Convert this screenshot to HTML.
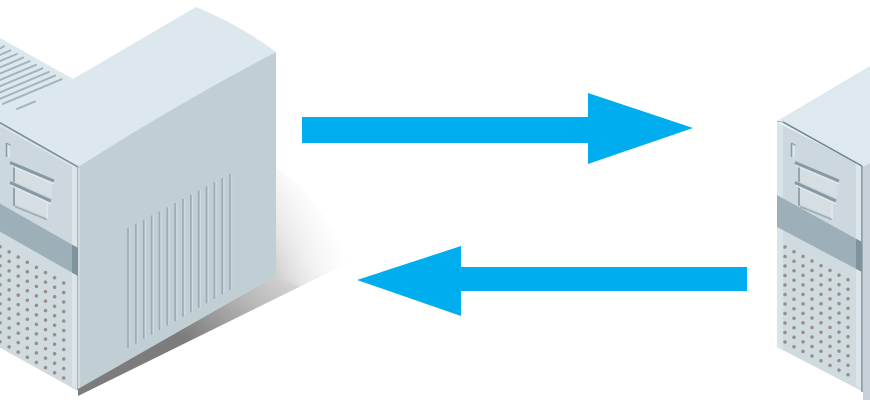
<!DOCTYPE html>
<html>
<head>
<meta charset="utf-8">
<style>
  html, body { margin: 0; padding: 0; background: #ffffff; }
  body { width: 870px; height: 400px; overflow: hidden; }
  svg { display: block; }
</style>
</head>
<body>
<svg width="870" height="400" viewBox="0 0 870 400" xmlns="http://www.w3.org/2000/svg">
  <defs>
    <linearGradient id="shad" gradientUnits="userSpaceOnUse" x1="190" y1="345" x2="330" y2="200">
      <stop offset="0" stop-color="#7c7c7c"/>
      <stop offset="0.35" stop-color="#b6b6b6"/>
      <stop offset="0.7" stop-color="#e4e4e4"/>
      <stop offset="1" stop-color="#ffffff"/>
    </linearGradient>
    <linearGradient id="shad2" gradientUnits="userSpaceOnUse" x1="276" y1="0" x2="350" y2="0">
      <stop offset="0" stop-color="#ffffff" stop-opacity="0"/>
      <stop offset="1" stop-color="#ffffff" stop-opacity="1"/>
    </linearGradient>
    <g id="eicon">
      <polygon points="6,143 10,145 10,158 6,156" fill="#dde7eb"/>
      <line x1="6.5" y1="143" x2="6.5" y2="157" stroke="#8a9ca5" stroke-width="1.6"/>
      <line x1="6.5" y1="143" x2="10.5" y2="145.5" stroke="#8a9ca5" stroke-width="1.2"/>
      <polygon points="13,166 52,184 52,198 13,181" fill="#d4dee3"/>
      <line x1="14" y1="166" x2="14" y2="182" stroke="#93a4ac" stroke-width="2"/>
      <line x1="10" y1="162.5" x2="54" y2="181" stroke="#8799a2" stroke-width="3"/>
      <line x1="11" y1="165.5" x2="54" y2="184" stroke="#e4ecef" stroke-width="1.2"/>
      <polygon points="13,187 48,203 48,218 13,203" fill="#d4dee3"/>
      <line x1="14" y1="187" x2="14" y2="206" stroke="#93a4ac" stroke-width="2"/>
      <line x1="10" y1="182.5" x2="51" y2="201" stroke="#8799a2" stroke-width="3"/>
      <line x1="11" y1="185.5" x2="51" y2="204" stroke="#e4ecef" stroke-width="1.2"/>
      <line x1="15" y1="206.5" x2="47" y2="219.5" stroke="#9aabb3" stroke-width="1.6"/>
      <line x1="47" y1="204" x2="47" y2="219" stroke="#e4ecef" stroke-width="1.2"/>
    </g>
    <g id="dcol">
      <circle cx="0" cy="0" r="1.75"/><circle cx="0" cy="9.5" r="1.75"/><circle cx="0" cy="19" r="1.75"/><circle cx="0" cy="28.5" r="1.75"/><circle cx="0" cy="38" r="1.75"/><circle cx="0" cy="47.5" r="1.75"/><circle cx="0" cy="57" r="1.75"/><circle cx="0" cy="66.5" r="1.75"/><circle cx="0" cy="76" r="1.75"/><circle cx="0" cy="85.5" r="1.75"/><circle cx="0" cy="95" r="1.75"/>
    </g>
  </defs>

  <!-- ============ LEFT SERVER ============ -->
  <polygon points="276,168 300,186 322,214 338,240 350,262 78,396 78,386 276,276" fill="url(#shad)"/>
  <polygon points="276,168 300,186 322,214 338,240 350,262 300,287 276,276" fill="url(#shad2)"/>

  <!-- top face -->
  <path d="M -10,32 L 0,38 L 73,79 L 196,7 Q 240,25 276,52 Q 180,102 78,167 L -10,117 Z" fill="#dce8ee"/>

  <!-- top vents -->
  <g stroke="#a4b4bc" stroke-width="2" stroke-linecap="round">
    <line x1="0" y1="48.5" x2="4" y2="46.2"/>
    <line x1="0" y1="54.8" x2="10.4" y2="50.4"/>
    <line x1="0" y1="61.1" x2="16.8" y2="54"/>
    <line x1="0" y1="67.4" x2="23.2" y2="57.6"/>
    <line x1="0" y1="73.6" x2="29.6" y2="61.2"/>
    <line x1="0" y1="79.9" x2="36" y2="64.8"/>
    <line x1="0" y1="86.2" x2="42.4" y2="68.4"/>
    <line x1="0" y1="92.5" x2="48.8" y2="72"/>
    <line x1="0" y1="98.8" x2="55.2" y2="75.6"/>
    <line x1="3" y1="103.8" x2="61.6" y2="79.2"/>
    <line x1="17" y1="109" x2="35" y2="101.4"/>
  </g>

  <!-- right face -->
  <path d="M 78,167 Q 180,102 276,52 L 276,276 L 78,389 Z" fill="#c1ced4"/>
  <line x1="79" y1="168" x2="79" y2="388" stroke="#d3dde2" stroke-width="1.5"/>

  <!-- right face vents -->
  <g stroke-width="1.6">
    <g stroke="#9aabb3">
      <line x1="128" y1="228" x2="128" y2="348"/>
      <line x1="135.85" y1="223.8" x2="135.85" y2="343.5"/>
      <line x1="143.7" y1="219.7" x2="143.7" y2="339.1"/>
      <line x1="151.55" y1="215.5" x2="151.55" y2="334.6"/>
      <line x1="159.4" y1="211.4" x2="159.4" y2="330.1"/>
      <line x1="167.25" y1="207.2" x2="167.25" y2="325.6"/>
      <line x1="175.1" y1="203" x2="175.1" y2="321.2"/>
      <line x1="182.95" y1="198.9" x2="182.95" y2="316.7"/>
      <line x1="190.8" y1="194.7" x2="190.8" y2="312.2"/>
      <line x1="198.65" y1="190.6" x2="198.65" y2="307.7"/>
      <line x1="206.5" y1="186.4" x2="206.5" y2="303.3"/>
      <line x1="214.35" y1="182.2" x2="214.35" y2="298.8"/>
      <line x1="222.2" y1="178.1" x2="222.2" y2="294.3"/>
      <line x1="230" y1="174" x2="230" y2="290"/>
    </g>
    <g stroke="#d2dde2" stroke-width="1">
      <line x1="129.8" y1="228" x2="129.8" y2="347"/>
      <line x1="137.65" y1="223.8" x2="137.65" y2="342.5"/>
      <line x1="145.5" y1="219.7" x2="145.5" y2="338.1"/>
      <line x1="153.35" y1="215.5" x2="153.35" y2="333.6"/>
      <line x1="161.2" y1="211.4" x2="161.2" y2="329.1"/>
      <line x1="169.05" y1="207.2" x2="169.05" y2="324.6"/>
      <line x1="176.9" y1="203" x2="176.9" y2="320.2"/>
      <line x1="184.75" y1="198.9" x2="184.75" y2="315.7"/>
      <line x1="192.6" y1="194.7" x2="192.6" y2="311.2"/>
      <line x1="200.45" y1="190.6" x2="200.45" y2="306.7"/>
      <line x1="208.3" y1="186.4" x2="208.3" y2="302.3"/>
      <line x1="216.15" y1="182.2" x2="216.15" y2="297.8"/>
      <line x1="224" y1="178.1" x2="224" y2="293.3"/>
      <line x1="231.8" y1="174" x2="231.8" y2="289"/>
    </g>
  </g>

  <!-- front face -->
  <polygon points="-10,117 78,167 78,391 -10,342" fill="#ccd8de"/>
  <polygon points="-10,226 78,276 78,391 -10,342" fill="#d0dbe0"/>
  <polygon points="72,164 77,167 77,389 72,386" fill="#dbe5ea"/>
  <line x1="77.5" y1="167" x2="77.5" y2="390" stroke="#a3b3ba" stroke-width="1"/>
  <polygon points="-10,198 78,248 78,276 -10,226" fill="#9db0b9"/>
  <polygon points="72,244.6 78,248 78,276 72,272.6" fill="#7f939d"/>
  <line x1="-10" y1="117" x2="78" y2="167" stroke="#7a8c95" stroke-width="1.5"/>
  <line x1="-10" y1="119.5" x2="73" y2="166.5" stroke="#e2eaee" stroke-width="1"/>

  <use href="#eicon"/>

  <!-- ============ RIGHT SERVER ============ -->
  <polygon points="777,121 870,66 870,163 863,167" fill="#dde9ef"/>
  <polygon points="863,167 870,163 870,400 863,400" fill="#c6d2d8"/>
  <polygon points="777,122 862,166 862,391 777,347" fill="#ccd8de"/>
  <polygon points="777,227 862,272 862,391 777,347" fill="#d0dbe0"/>
  <polygon points="777,122 783,125 783,350 777,347" fill="#d9e4e9"/>
  <polygon points="856,163 861,165.5 861,389 856,386" fill="#dbe5ea"/>
  <line x1="862" y1="166" x2="862" y2="392" stroke="#7e909a" stroke-width="1.5"/>
  <polygon points="777,195 862,242 862,272 777,227" fill="#9db0b9"/>
  <polygon points="856,238.7 862,242 862,272 856,268.7" fill="#7f939d"/>
  <line x1="783" y1="122" x2="862" y2="166" stroke="#70838c" stroke-width="1.5"/>
  <line x1="777" y1="121.5" x2="783" y2="122" stroke="#a9b8bf" stroke-width="1"/>

  <use href="#eicon" transform="translate(785,0)"/>

  <!-- ============ DOTS ============ -->
  <g fill="#988d8b">
    <use href="#dcol" transform="translate(0,246.7)"/>
    <use href="#dcol" transform="translate(9.1,251.9)"/>
    <use href="#dcol" transform="translate(18.2,257.1)"/>
    <use href="#dcol" transform="translate(27.3,262.3)"/>
    <use href="#dcol" transform="translate(36.4,267.4)"/>
    <use href="#dcol" transform="translate(45.5,272.6)"/>
    <use href="#dcol" transform="translate(54.6,277.8)"/>
    <use href="#dcol" transform="translate(63.7,283)"/>

    <use href="#dcol" transform="translate(785,247)"/>
    <use href="#dcol" transform="translate(794,251.7)"/>
    <use href="#dcol" transform="translate(803,256.4)"/>
    <use href="#dcol" transform="translate(812,261)"/>
    <use href="#dcol" transform="translate(821,265.7)"/>
    <use href="#dcol" transform="translate(830,270.4)"/>
    <use href="#dcol" transform="translate(839,275.1)"/>
    <use href="#dcol" transform="translate(848,279.8)"/>
  </g>

  <!-- ============ ARROWS ============ -->
  <polygon points="302,117 588,117 588,93 693,128 588,164 588,143 302,143" fill="#00aeef"/>
  <polygon points="747,267 461,267 461,246 357,280 461,316 461,291 747,291" fill="#00aeef"/>
</svg>
</body>
</html>
